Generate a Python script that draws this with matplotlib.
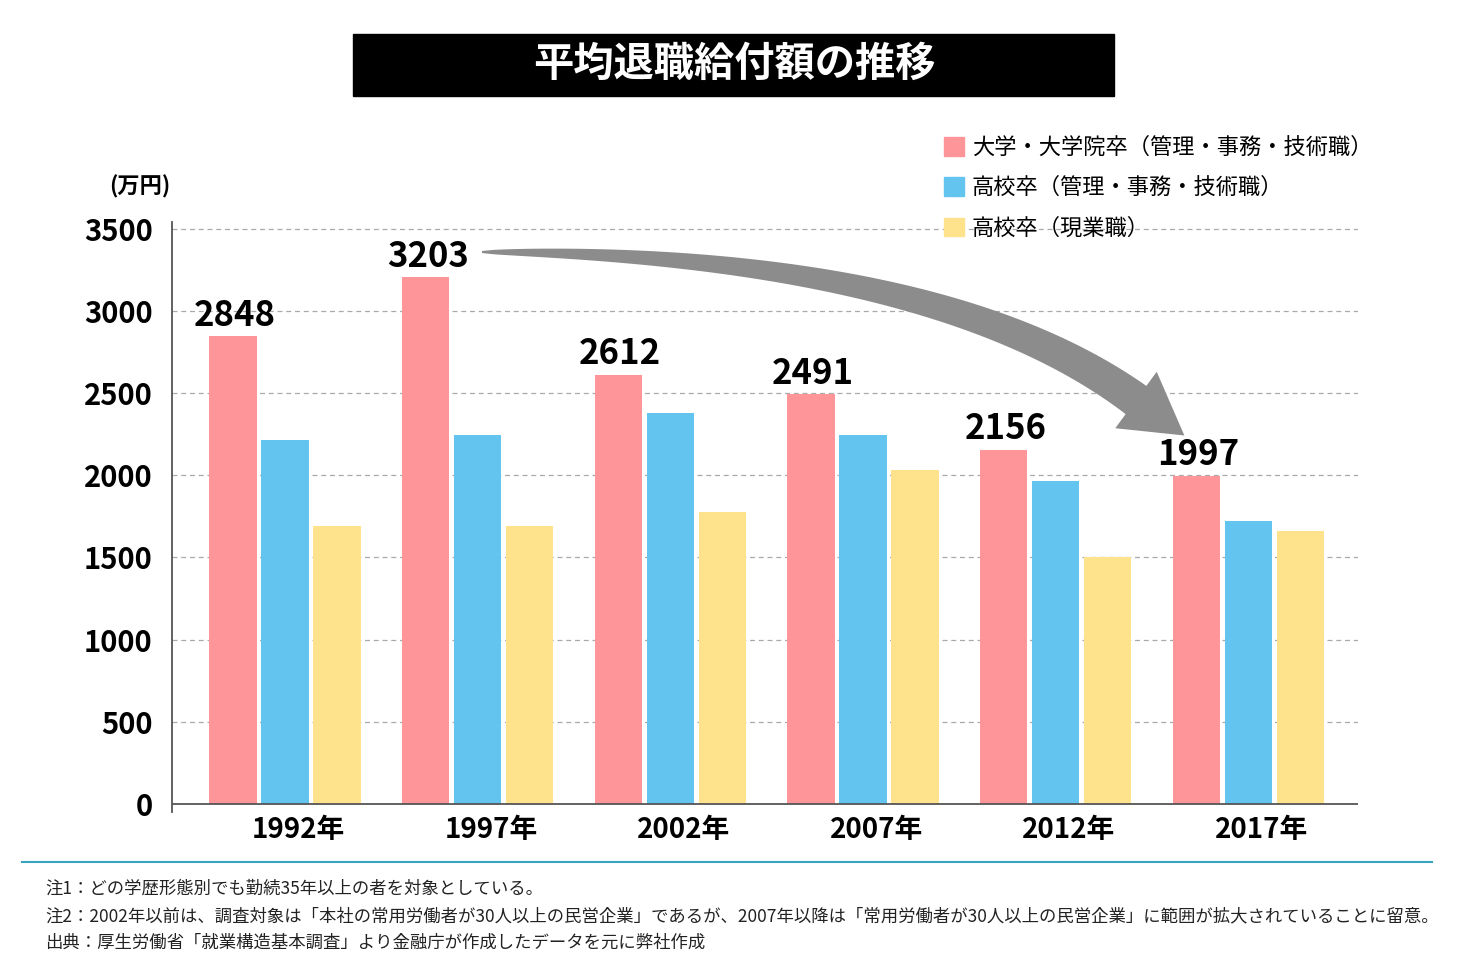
import numpy as np
import matplotlib
matplotlib.use("Agg")
import matplotlib.pyplot as plt
from matplotlib.patches import Rectangle, Polygon, Patch
from matplotlib.lines import Line2D

plt.rcParams['font.family'] = ['Noto Sans CJK JP', 'DejaVu Sans']

years = ['1992年', '1997年', '2002年', '2007年', '2012年', '2017年']
series_names = ['大学・大学院卒（管理・事務・技術職）',
                '高校卒（管理・事務・技術職）',
                '高校卒（現業職）']
univ = [2848, 3203, 2612, 2491, 2156, 1997]
high_office = [2212, 2245, 2376, 2242, 1963, 1721]
high_field = [1690, 1690, 1778, 2030, 1500, 1660]
yticks = [0, 500, 1000, 1500, 2000, 2500, 3000, 3500]

colors = ['#fe9598', '#63c5ef', '#fee28c']
notes = [
    '注1：どの学歴形態別でも勤続35年以上の者を対象としている。',
    '注2：2002年以前は、調査対象は「本社の常用労働者が30人以上の民営企業」であるが、'
    '2007年以降は「常用労働者が30人以上の民営企業」に範囲が拡大されていることに留意。',
    '出典：厚生労働省「就業構造基本調査」より金融庁が作成したデータを元に弊社作成',
]

W, H = 1468, 980


def fx(px):
    return px / W


def fy(py):
    return 1 - py / H


fig = plt.figure(figsize=(W / 100, H / 100), dpi=100)
ax = fig.add_axes([fx(172), fy(812), fx(1358) - fx(172), fy(222) - fy(812)])

x = np.arange(len(years))
off = 0.27
bw = 0.245
ax.bar(x - off, univ, bw, color=colors[0], zorder=3, label=series_names[0])
ax.bar(x, high_office, bw, color=colors[1], zorder=3, label=series_names[1])
ax.bar(x + off, high_field, bw, color=colors[2], zorder=3, label=series_names[2])

for xi, v in zip(x - off, univ):
    ax.text(xi + 0.01, v + 20, str(v), ha='center', va='bottom',
            fontsize=25, fontweight='bold', zorder=5)

ax.set_xlim(-0.587, 5.57)
ax.set_ylim(-48, 3540)
ax.set_yticks(yticks)
ax.set_yticklabels([str(t) for t in yticks], fontsize=21, fontweight='bold')
ax.set_xticks(x + 0.07)
ax.set_xticklabels(years, fontsize=20, fontweight='bold')
ax.tick_params(axis='y', length=0, pad=14)
ax.tick_params(axis='x', length=0, pad=3)

for t in yticks[1:]:
    ax.axhline(t, color='#aaaaaa', lw=0.9, ls=(0, (4, 3)), zorder=1)
ax.axhline(0, color='#555555', lw=1.3, zorder=4)

for s in ['top', 'right', 'bottom']:
    ax.spines[s].set_visible(False)
ax.spines['left'].set_color('#555555')
ax.spines['left'].set_linewidth(1.3)

fig.text(fx(140), fy(187), '(万円)', ha='center', va='center',
         fontsize=16, fontweight='bold')

handles = [Patch(color=c) for c in colors]
leg = ax.legend(handles, series_names, loc='upper left',
                bbox_to_anchor=(fx(944), fy(136)), bbox_transform=fig.transFigure,
                frameon=False, fontsize=16, handlelength=0.9, handleheight=0.9,
                handletextpad=0.35, labelspacing=0.78, borderpad=0,
                borderaxespad=0)
leg.set_zorder(6)

# title box
fig.add_artist(Rectangle((fx(353), fy(96)), fx(1114) - fx(353), fy(34) - fy(96),
                         transform=fig.transFigure, color='black'))
fig.text(fx(734), fy(64), '平均退職給付額の推移', ha='center', va='center',
         color='white', fontsize=29, fontweight='bold')

# curved arrow
p0 = np.array([482.0, 252.0])
p1 = np.array([937.0, 254.0])
p2 = np.array([1136.0, 400.0])
ts = np.linspace(0, 1, 80)
upper, lower = [], []
for t in ts:
    pt = (1 - t) ** 2 * p0 + 2 * (1 - t) * t * p1 + t ** 2 * p2
    tan = 2 * (1 - t) * (p1 - p0) + 2 * t * (p2 - p1)
    tan = tan / np.linalg.norm(tan)
    nrm = np.array([tan[1], -tan[0]])
    w = 2 + 33 * t ** 0.6
    upper.append(pt + nrm * w / 2)
    lower.append(pt - nrm * w / 2)
tan_end = (p2 - p1) / np.linalg.norm(p2 - p1)
nrm_end = np.array([tan_end[1], -tan_end[0]])
head = [p2 + nrm_end * 35, p2 + tan_end * 60, p2 - nrm_end * 35]
pts = upper + head + lower[::-1]
pts = [(fx(p[0]), fy(p[1])) for p in pts]
fig.add_artist(Polygon(pts, closed=True, transform=fig.transFigure,
                       color='#8c8c8c', lw=0, zorder=7))

# separator line and notes
fig.add_artist(Line2D([fx(22), fx(1432)], [fy(862), fy(862)],
                      transform=fig.transFigure, color='#3aa3bc', lw=1.5))
for i, n in enumerate(notes):
    fig.text(fx(45), fy(889 + 27 * i), n, ha='left', va='center',
             fontsize=12.5, color='#222222')

fig.savefig('out.png', dpi=100)
